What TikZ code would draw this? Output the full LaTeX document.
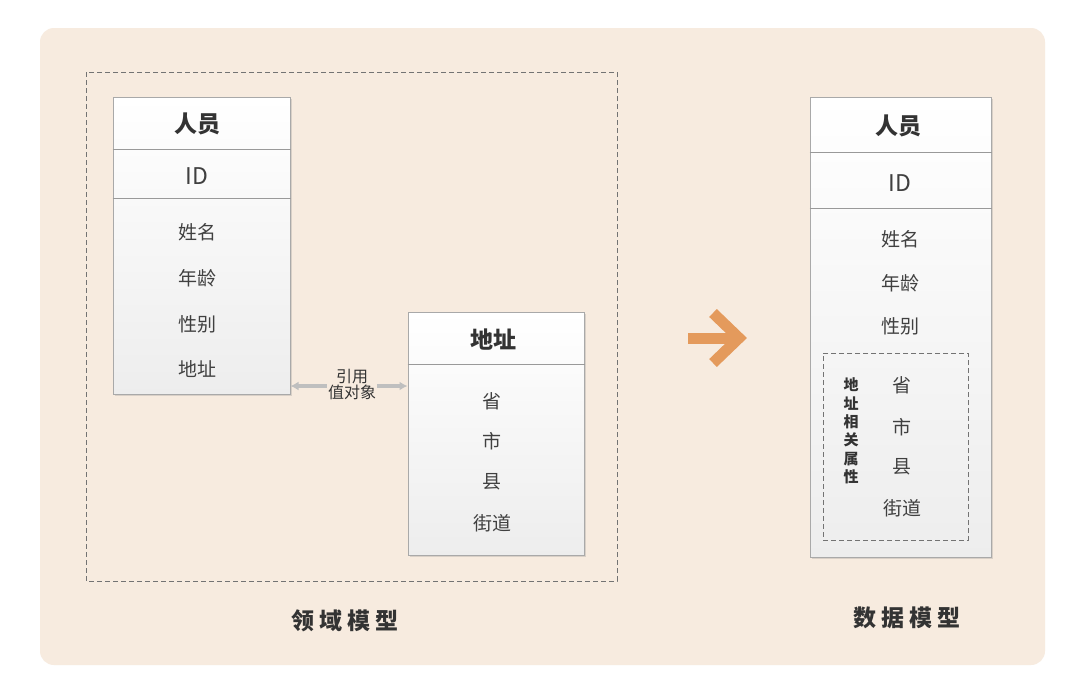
\documentclass[tikz,border=0pt]{standalone}
\usepackage{fontspec}
\newfontfamily\cjk{Noto Sans CJK SC}
\newfontfamily\cjkwide[LetterSpace=22]{Noto Sans CJK SC}
\usetikzlibrary{arrows.meta,shadows,positioning}
\definecolor{peach}{HTML}{F7EBDF}
\definecolor{boxline}{HTML}{A9A9A9}
\definecolor{txt}{HTML}{333333}
\definecolor{orangearrow}{HTML}{E49A5C}
\tikzset{
  tablebox/.style={rectangle,draw=boxline,line width=1pt,top color=white,bottom color=black!7,
    drop shadow={opacity=0.25,shadow xshift=1.5pt,shadow yshift=-1.5pt}},
  divider/.style={draw=black!40,line width=1pt},
  title/.style={font=\cjk\bfseries\fontsize{23}{26}\selectfont,text=txt},
  item/.style={font=\cjk\fontsize{19}{22}\selectfont,text=black!75},
  idtext/.style={font=\cjk\fontsize{23}{26}\selectfont,text=black!75},
  dashbox/.style={draw=black!55,dash pattern=on 5pt off 3pt,line width=0.8pt},
  refarrow/.style={{Latex[length=8pt,width=9pt]}-,draw=black!25,line width=3.5pt},
  caption/.style={font=\cjkwide\bfseries\fontsize{23}{26}\selectfont,text=txt}
}
\begin{document}
\begin{tikzpicture}[x=1pt,y=-1pt]
  \useasboundingbox[fill=white] (0,0) rectangle (1080,694);
  \fill[peach,rounded corners=14pt] (40,28) rectangle (1045,665);

  % domain model
  \draw[dashbox] (86,72) rectangle (617,581);
  \node[tablebox,minimum width=177,minimum height=297] (pL) at (201.5,245.5) {};
  \draw[divider] (pL.west |- 0,149) -- (pL.east |- 0,149);
  \draw[divider] (pL.west |- 0,198) -- (pL.east |- 0,198);
  \node[title] (pLtitle) at (197,124) {人员};
  \node[idtext] (pLid) at (197,176) {ID};
  \foreach \t/\y [count=\i] in {姓名/232,年龄/278,性别/324,地址/369}
    \node[item] (pL\i) at (197,\y) {\t};

  \node[tablebox,minimum width=176,minimum height=243] (addr) at (496,433.5) {};
  \draw[divider] (addr.west |- 0,364) -- (addr.east |- 0,364);
  \node[title] (addrtitle) at (493,340) {地址};
  \foreach \t/\y [count=\i] in {省/401,市/441,县/482,街道/523}
    \node[item] (addr\i) at (492,\y) {\t};

  \node[font=\cjk\fontsize{16}{16}\selectfont,text=txt,align=center,inner sep=1pt] (ref) at (352,384) {引用\\值对象};
  \draw[refarrow] (pL.east |- 0,386) -- (ref.west |- 0,386);
  \draw[refarrow] (addr.west |- 0,386) -- (ref.east |- 0,386);

  \node[caption] (domcap) at (345,621) {领域模型};

  % transform arrow
  \draw[orangearrow,line width=11pt] (688,338) -- (736,338);
  \draw[orangearrow,line width=11pt,miter limit=10] (713,313) -- (739,338) -- (713,363);

  % data model
  \node[tablebox,minimum width=181,minimum height=460] (pR) at (900.5,327) {};
  \draw[divider] (pR.west |- 0,152) -- (pR.east |- 0,152);
  \draw[divider] (pR.west |- 0,208) -- (pR.east |- 0,208);
  \node[title] (pRtitle) at (898,126) {人员};
  \node[idtext] (pRid) at (900,183) {ID};
  \foreach \t/\y [count=\i] in {姓名/239,年龄/283,性别/326}
    \node[item] (pR\i) at (900,\y) {\t};
  \node[dashbox,minimum width=145,minimum height=187] (grp) at (895.5,446.5) {};
  \node[font=\cjk\bfseries\fontsize{15}{18.3}\selectfont,text=txt,align=center,inner sep=0pt] (grplabel) at (851,431) {地\\址\\相\\关\\属\\性};
  \foreach \t/\y [count=\i] in {省/385,市/427,县/467,街道/508}
    \node[item] (grp\i) at (902,\y) {\t};

  \node[caption] (datacap) at (907,618) {数据模型};
\end{tikzpicture}
\end{document}
